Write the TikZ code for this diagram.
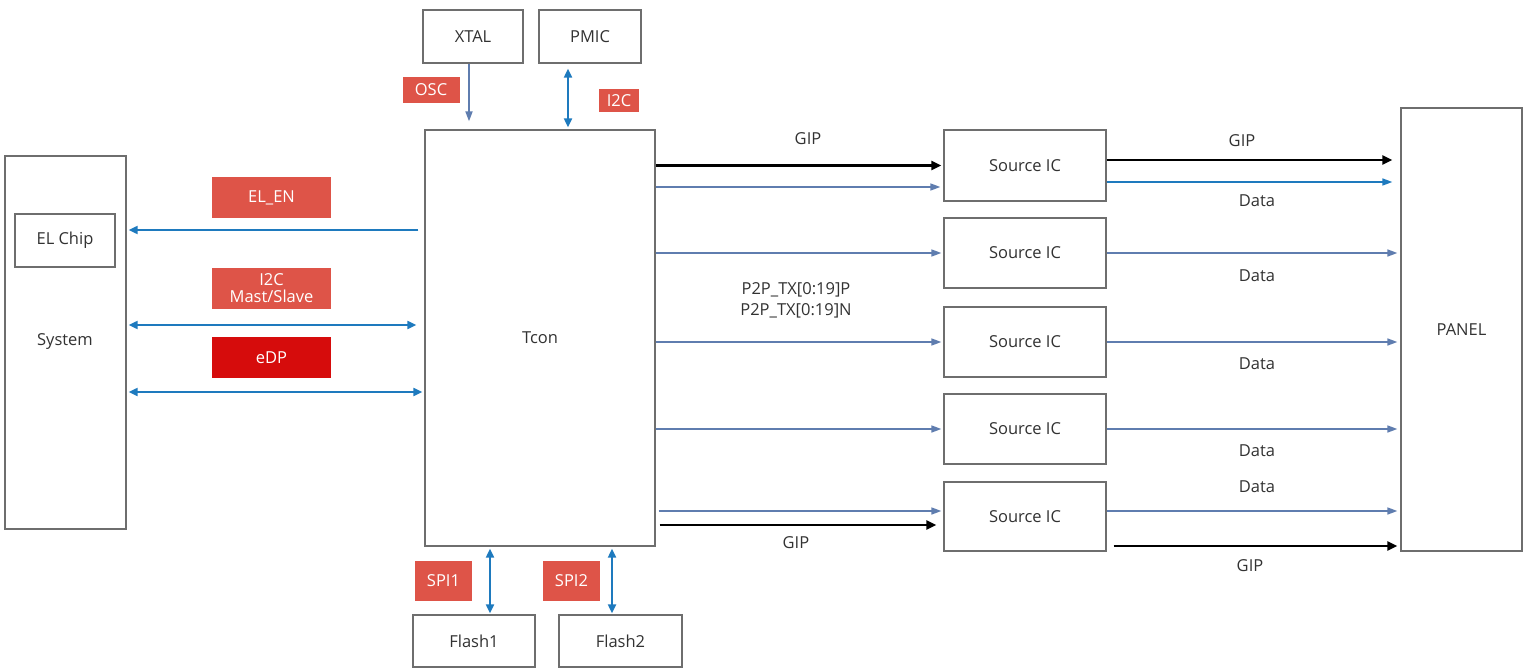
\documentclass[tikz,border=0pt]{standalone}
\usepackage{fontspec}
\setmainfont{Open Sans}
\usetikzlibrary{arrows.meta,calc}
\definecolor{boxline}{RGB}{110,110,110}
\definecolor{txt}{RGB}{50,50,50}
\definecolor{tagred}{RGB}{222,84,72}
\definecolor{edpred}{RGB}{214,12,12}
\definecolor{busblue}{RGB}{30,122,190}
\definecolor{lanegray}{RGB}{95,125,175}
\tikzset{
  blk/.style={draw=boxline, line width=1.3pt, fill=white, text=txt, inner sep=0pt,
              font=\fontsize{16.5}{19}\selectfont},
  tag/.style={fill=tagred, text=white, inner sep=0pt, align=center,
              font=\fontsize{16.5}{17}\selectfont},
  bi/.style={draw=busblue, line width=2pt, {Triangle[length=9pt,width=8pt]}-{Triangle[length=9pt,width=8pt]}},
  uni/.style={draw=busblue, line width=2pt, -{Triangle[length=9pt,width=8pt]}},
  lane/.style={draw=lanegray, line width=1.6pt, -{Triangle[length=10pt,width=7pt]}},
  gip/.style={draw=black, line width=2.4pt, -{Triangle[length=10pt,width=9pt]}},
  lbl/.style={text=txt, inner sep=0pt, align=center, font=\fontsize{16.5}{21}\selectfont},
}
\begin{document}
\begin{tikzpicture}[x=1pt,y=-1pt]
\useasboundingbox (0,0) rectangle (1533,668);

% blocks
\node[blk, minimum width=121pt, minimum height=373pt] (sys) at (65.5,342.5) {};
\node[text=txt, font=\fontsize{16.5}{19}\selectfont] (systxt) at (65,342) {System};
\node[blk, minimum width=100pt, minimum height=53pt] (elchip) at (65,240.5) {EL Chip};
\node[blk, minimum width=230pt, minimum height=416pt] (tcon) at (540,338) {Tcon};
\node[blk, minimum width=100pt, minimum height=53pt] (xtal) at (473,36.5) {XTAL};
\node[blk, minimum width=102pt, minimum height=53pt] (pmic) at (590,36.5) {PMIC};
\node[blk, minimum width=122pt, minimum height=52pt] (flash1) at (474,641) {Flash1};
\node[blk, minimum width=123pt, minimum height=52pt] (flash2) at (620.5,641) {Flash2};
\node[blk, minimum width=162pt, minimum height=71pt] (s1) at (1025,165.5) {Source IC};
\node[blk, minimum width=162pt, minimum height=70pt] (s2) at (1025,253) {Source IC};
\node[blk, minimum width=162pt, minimum height=70pt] (s3) at (1025,342) {Source IC};
\node[blk, minimum width=162pt, minimum height=70pt] (s4) at (1025,429) {Source IC};
\node[blk, minimum width=162pt, minimum height=69pt] (s5) at (1025,516.5) {Source IC};
\node[blk, minimum width=121pt, minimum height=443pt] (panel) at (1461.5,329.5) {PANEL};

% interface tags
\node[tag, minimum width=57pt, minimum height=26pt] (osc) at (431,90) {OSC};
\node[tag, minimum width=40pt, minimum height=23pt] (i2ct) at (619,100.5) {I2C};
\node[tag, minimum width=119pt, minimum height=41pt] (elen) at (271.5,197.5) {EL\_EN};
\node[tag, minimum width=119pt, minimum height=41pt] (i2cms) at (271.5,288.5) {I2C\\Mast/Slave};
\node[tag, fill=edpred, minimum width=119pt, minimum height=41pt] (edp) at (271.5,357.5) {eDP};
\node[tag, minimum width=57pt, minimum height=40pt] (spi1) at (443.5,581) {SPI1};
\node[tag, minimum width=57pt, minimum height=40pt] (spi2) at (571.5,581) {SPI2};

% clock and power
\draw[lane, line width=1.8pt, shorten >=8pt] ([xshift=-4pt]xtal.south) -- ([xshift=-4pt]xtal.south |- tcon.north);
\draw[bi, shorten <=5pt, shorten >=2pt] ([xshift=-22pt]pmic.south) -- ([xshift=-22pt]pmic.south |- tcon.north);

% host side links
\draw[uni, shorten >=2pt, shorten <=6pt] (tcon.west |- 0,230) -- (sys.east |- 0,230);
\draw[bi, shorten <=2pt, shorten >=8pt] (sys.east |- 0,325) -- (tcon.west |- 0,325);
\draw[bi, shorten <=2pt, shorten >=2pt] (sys.east |- 0,392) -- (tcon.west |- 0,392);

% flash links
\draw[bi, shorten <=2pt, shorten >=1pt] ([xshift=16pt]flash1.north |- tcon.south) -- ([xshift=16pt]flash1.north);
\draw[bi, shorten <=2pt, shorten >=1pt] ([xshift=-8.5pt]flash2.north |- tcon.south) -- ([xshift=-8.5pt]flash2.north);

% Tcon to source drivers
\draw[gip, shorten >=2pt] (tcon.east |- s1.west) -- (s1.west);
\draw[lane, shorten >=3pt] ([yshift=-21.5pt]tcon.east |- s1.west) -- ([yshift=-21.5pt]s1.west);
\draw[lane, shorten >=2pt] (tcon.east |- s2.west) -- (s2.west);
\draw[lane, shorten >=2pt] (tcon.east |- s3.west) -- (s3.west);
\draw[lane, shorten >=2pt] (tcon.east |- s4.west) -- (s4.west);
\draw[lane, shorten <=3pt, shorten >=2pt] ([yshift=5.5pt]tcon.east |- s5.west) -- ([yshift=5.5pt]s5.west);
\draw[gip, shorten <=4pt, shorten >=7pt] ([yshift=-8.5pt]tcon.east |- s5.west) -- ([yshift=-8.5pt]s5.west);

% source drivers to panel
\draw[gip, shorten >=8pt] ([yshift=5.5pt]s1.east) -- ([yshift=5.5pt]s1.east -| panel.west);
\draw[lane, draw=busblue, shorten >=8pt] ([yshift=-16.5pt]s1.east) -- ([yshift=-16.5pt]s1.east -| panel.west);
\draw[lane, shorten >=3pt] (s2.east) -- (s2.east -| panel.west);
\draw[lane, shorten >=3pt] (s3.east) -- (s3.east -| panel.west);
\draw[lane, shorten >=3pt] (s4.east) -- (s4.east -| panel.west);
\draw[lane, shorten >=3pt] ([yshift=5.5pt]s5.east) -- ([yshift=5.5pt]s5.east -| panel.west);
\draw[gip, shorten <=7pt, shorten >=3pt] ([yshift=-29.5pt]s5.east) -- ([yshift=-29.5pt]s5.east -| panel.west);

% signal names
\node[lbl] (g1) at (808,139) {GIP};
\node[lbl] (p2p) at (796,300) {P2P\_TX[0:19]P\\P2P\_TX[0:19]N};
\node[lbl] (g2) at (796,543) {GIP};
\node[lbl] (g3) at (1242,141) {GIP};
\node[lbl] (d1) at (1257,201) {Data};
\node[lbl] (d2) at (1257,276) {Data};
\node[lbl] (d3) at (1257,364) {Data};
\node[lbl] (d4) at (1257,451) {Data};
\node[lbl] (d5) at (1257,487) {Data};
\node[lbl] (g4) at (1250,566) {GIP};
\end{tikzpicture}
\end{document}
